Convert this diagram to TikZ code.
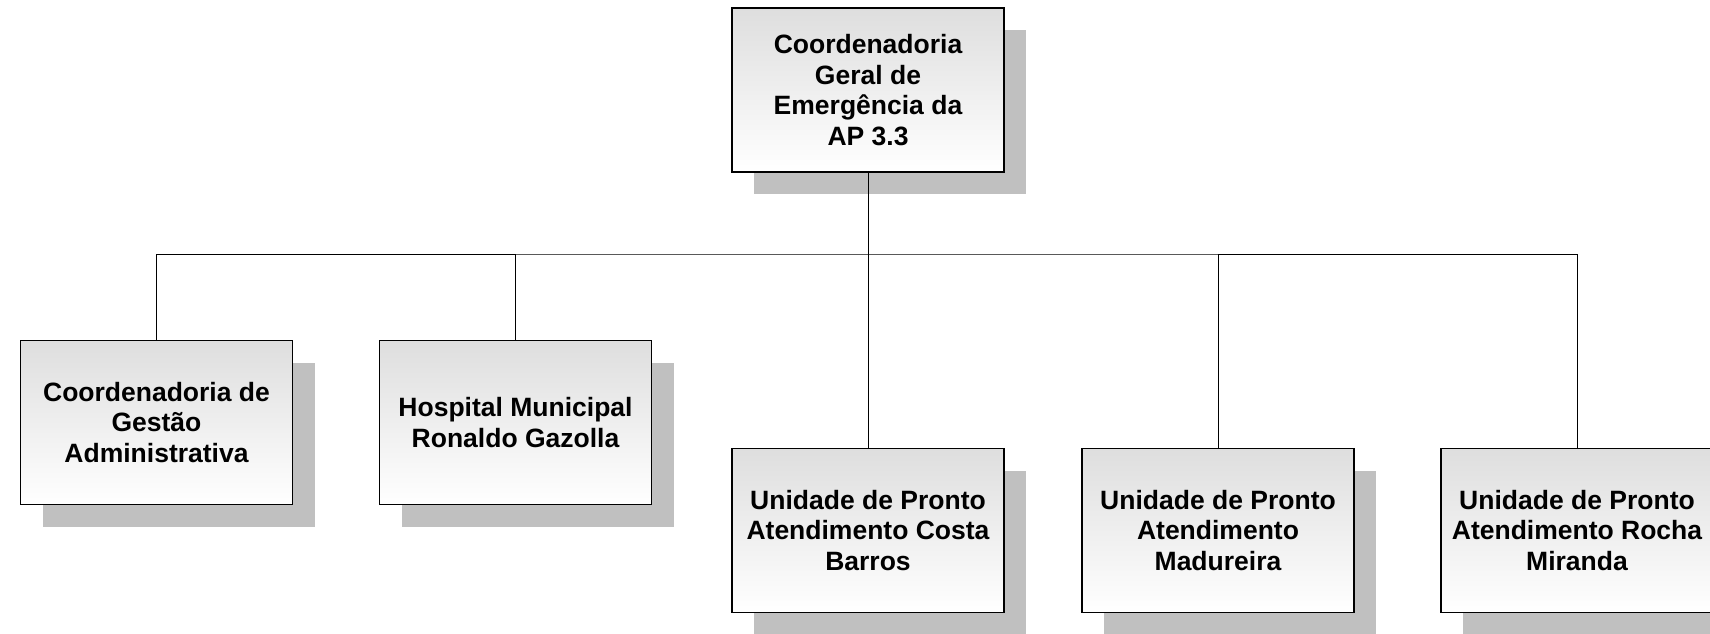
\documentclass[tikz,border=0pt]{standalone}
\usepackage{fontspec}
\setmainfont{Liberation Sans}
\usetikzlibrary{shadows}
\definecolor{shadowgray}{RGB}{192,192,192}
\definecolor{topgray}{RGB}{222,222,222}
\begin{document}
\begin{tikzpicture}[x=1pt,y=-1pt,
  orgbox/.style={draw=black, line width=1.8pt, top color=topgray, bottom color=white,
    minimum width=272pt, minimum height=164pt, inner sep=0pt, align=center,
    font=\fontsize{26.5}{30.5}\selectfont\bfseries,
    general shadow={shadow xshift=22pt, shadow yshift=-22pt, fill=shadowgray, draw=none}},
  link/.style={draw=black, line width=1pt}]
\useasboundingbox (0,0) rectangle (1710,633);
\node[orgbox] (top) at (868,90) {Coordenadoria\\Geral de\\Emergência da\\AP 3.3};
\node[orgbox] (g1) at (156.5,422.5) {Coordenadoria de\\Gestão\\Administrativa};
\node[orgbox] (g2) at (515.5,422.5) {Hospital Municipal\\Ronaldo Gazolla};
\node[orgbox] (r1) at (868,530.5) {Unidade de Pronto\\Atendimento Costa\\Barros};
\node[orgbox] (r2) at (1218,530.5) {Unidade de Pronto\\Atendimento\\Madureira};
\node[orgbox] (r3) at (1577,530.5) {Unidade de Pronto\\Atendimento Rocha\\Miranda};
\coordinate (bus) at (868,254);
\draw[link] (top.south) -- (bus);
\draw[link] (g1.north) |- (bus) -| (r3.north);
\draw[link] (g2.north) -- (g2.north |- bus);
\draw[link] (r1.north) -- (r1.north |- bus);
\draw[link] (r2.north) -- (r2.north |- bus);
\end{tikzpicture}
\end{document}
